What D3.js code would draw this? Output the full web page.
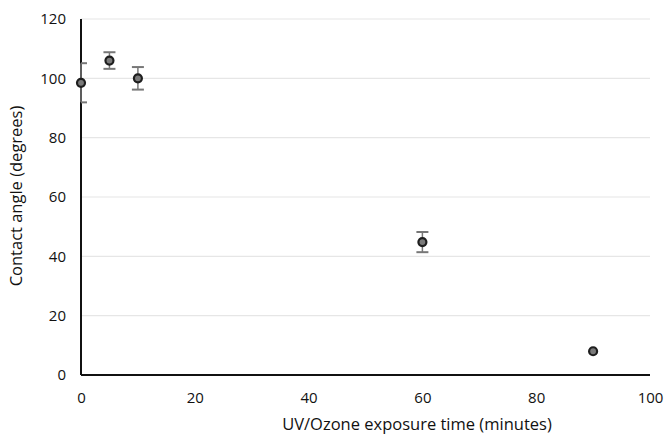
<!DOCTYPE html>
<html>
<head>
<meta charset="utf-8">
<script src="https://cdn.jsdelivr.net/npm/d3@7"></script>
<style>
  html, body { margin: 0; padding: 0; background: #fff; overflow: hidden; }
  svg { display: block; }
  text { font-family: "Open Sans", "Noto Sans", sans-serif; fill: #111; }
</style>
</head>
<body>
<script>
const width = 666;
const height = 434;
const margin = { top: 19, right: 16, bottom: 59, left: 81 };
const innerWidth = width - margin.left - margin.right;
const innerHeight = height - margin.top - margin.bottom;

// exposure time (min), contact angle (deg), error (deg)
const times = [0, 5, 10, 60, 90];
const angles = [98.5, 106, 100, 44.8, 8];
const errors = [6.6, 2.8, 3.8, 3.4, 0];
const xTicks = [0, 20, 40, 60, 80, 100];
const yTicks = [0, 20, 40, 60, 80, 100, 120];

const data = times.map((t, i) => ({ t: t, a: angles[i], e: errors[i] }));

const x = d3.scaleLinear().domain([0, 100]).range([0, innerWidth]);
const y = d3.scaleLinear().domain([0, 120]).range([innerHeight, 0]);

const svg = d3.select("body").append("svg")
    .attr("width", width)
    .attr("height", height);

const g = svg.append("g")
    .attr("transform", "translate(" + margin.left + "," + margin.top + ")");

// gridlines
g.selectAll(".grid")
    .data(yTicks.filter(d => d > 0))
    .enter()
    .append("line")
    .attr("x1", 0)
    .attr("x2", innerWidth)
    .attr("y1", d => y(d))
    .attr("y2", d => y(d))
    .attr("stroke", "#e6e6e6")
    .attr("stroke-width", 1.2);

// axes
const xAxis = g.append("g")
    .attr("transform", "translate(0," + innerHeight + ")")
    .call(d3.axisBottom(x).tickValues(xTicks).tickSize(0).tickPadding(17));
const yAxis = g.append("g")
    .call(d3.axisLeft(y).tickValues(yTicks).tickSize(0).tickPadding(15));

[xAxis, yAxis].forEach(a => {
    a.attr("font-family", null).attr("font-size", null);
    a.select(".domain").attr("stroke", "#111").attr("stroke-width", 2);
    a.selectAll("text").attr("font-size", 15).attr("fill", "#111");
});
xAxis.select(".domain").attr("d", "M0,0H" + innerWidth);
yAxis.select(".domain").attr("d", "M0," + innerHeight + "V0");

// error bars (caps stop at the y axis)
const bars = g.selectAll(".err")
    .data(data.filter(d => d.e > 0))
    .enter()
    .append("g");
bars.append("line")
    .attr("x1", d => x(d.t)).attr("x2", d => x(d.t))
    .attr("y1", d => y(d.a + d.e)).attr("y2", d => y(d.a - d.e))
    .attr("stroke", "#777").attr("stroke-width", 1.5);
[1, -1].forEach(s => {
    bars.append("line")
        .attr("x1", d => Math.max(0, x(d.t) - 6)).attr("x2", d => x(d.t) + 6)
        .attr("y1", d => y(d.a + s * d.e)).attr("y2", d => y(d.a + s * d.e))
        .attr("stroke", "#777").attr("stroke-width", 2);
});

// points
g.selectAll(".pt")
    .data(data)
    .enter()
    .append("circle")
    .attr("cx", d => x(d.t))
    .attr("cy", d => y(d.a))
    .attr("r", 4)
    .attr("fill", "#7a7a7a")
    .attr("stroke", "#1e1e1e")
    .attr("stroke-width", 2.2);

// axis titles
svg.append("text")
    .attr("x", 417)
    .attr("y", 430)
    .attr("text-anchor", "middle")
    .attr("font-size", 16.5)
    .text("UV/Ozone exposure time (minutes)");

svg.append("text")
    .attr("transform", "translate(22,196) rotate(-90)")
    .attr("text-anchor", "middle")
    .attr("font-size", 16.5)
    .text("Contact angle (degrees)");
</script>
</body>
</html>
